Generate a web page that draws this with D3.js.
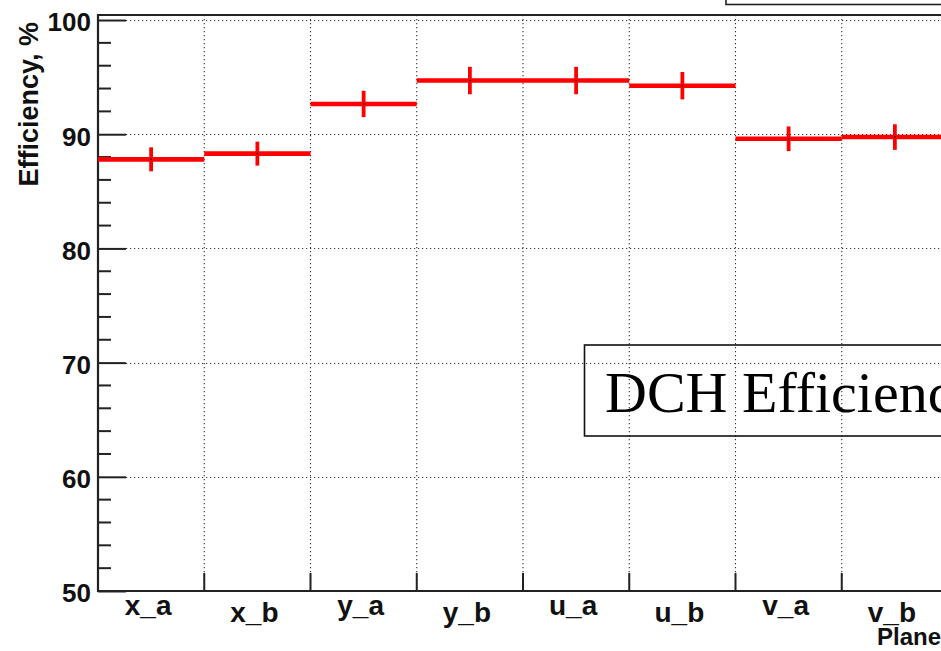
<!DOCTYPE html>
<html>
<head>
<meta charset="utf-8">
<script src="https://cdn.jsdelivr.net/npm/d3@7"></script>
<style>
  html, body { margin: 0; padding: 0; background: #fff; overflow: hidden; }
  svg { display: block; }
</style>
</head>
<body>
<svg id="chart" width="941" height="651"></svg>
<script>
// Drift-chamber plane efficiencies (%), with statistical errors
const planes = ["x_a", "x_b", "y_a", "y_b", "u_a", "u_b", "v_a", "v_b"];
const efficiency = [87.8, 88.3, 92.65, 94.7, 94.7, 94.25, 89.6, 89.75];
const errors = [1.05, 1.05, 1.15, 1.2, 1.2, 1.2, 1.08, 1.12];
const yTicks = [50, 60, 70, 80, 90, 100];
const yTitle = "Efficiency, %";
const xTitle = "Plane";
const boxText = "DCH Efficiency";

const svg = d3.select("#chart");
const frame = { left: 98, right: 948, top: 15, bottom: 591 };
const sans = "Liberation Sans, Arial, Helvetica, sans-serif";

const x = d3.scaleBand().domain(planes).range([frame.left, frame.right]).paddingInner(0).paddingOuter(0);
const y = d3.scaleLinear().domain([50, 100.44]).range([frame.bottom, frame.top]);

// top-right pave (title box)
svg.append("rect")
  .attr("x", 726).attr("y", -40).attr("width", 400).attr("height", 44.5)
  .attr("fill", "#fff").attr("stroke", "#222").attr("stroke-width", 1.6);

// dotted grid
const grid = svg.append("g").attr("stroke", "#333").attr("stroke-width", 1.1)
  .attr("stroke-dasharray", "1.2,2.8");
grid.selectAll("line.h").data(yTicks.filter(d => d > 50)).join("line")
  .attr("x1", frame.left).attr("x2", frame.right)
  .attr("y1", d => Math.round(y(d)) + 0.5).attr("y2", d => Math.round(y(d)) + 0.5);
grid.selectAll("line.v").data(planes.slice(1)).join("line")
  .attr("x1", d => x(d)).attr("x2", d => x(d))
  .attr("y1", frame.top).attr("y2", frame.bottom);

// frame top
svg.append("line").attr("x1", frame.left).attr("x2", frame.right + 10)
  .attr("y1", frame.top).attr("y2", frame.top)
  .attr("stroke", "#222").attr("stroke-width", 2);

// y axis: major ticks every 10, minor every 2
const yAxis = d3.axisLeft(y).tickValues(yTicks).tickSize(-28).tickPadding(7).tickFormat(d3.format("d"));
const gy = svg.append("g").attr("transform", `translate(${frame.left},0)`).call(yAxis);
gy.select(".domain").remove();
gy.selectAll(".tick line").attr("stroke", "#222").attr("stroke-width", 2);
gy.selectAll(".tick text")
  .attr("font-family", sans)
  .attr("font-weight", "bold").attr("font-size", 26).attr("fill", "#111")
  .attr("dy", "0.42em");
const minor = d3.range(52, 100, 2).filter(v => v % 10 !== 0);
svg.append("g").selectAll("line").data(minor).join("line")
  .attr("x1", frame.left).attr("x2", frame.left + 13)
  .attr("y1", d => y(d)).attr("y2", d => y(d))
  .attr("stroke", "#222").attr("stroke-width", 2);
svg.append("line").attr("x1", frame.left).attr("x2", frame.left)
  .attr("y1", frame.top - 1).attr("y2", frame.bottom + 1)
  .attr("stroke", "#222").attr("stroke-width", 2.2);

// x axis: ticks at bin edges, labels at bin centres
const gx = svg.append("g").attr("transform", `translate(0,${frame.bottom})`);
gx.append("line").attr("x1", frame.left).attr("x2", frame.right + 10)
  .attr("stroke", "#222").attr("stroke-width", 2);
gx.selectAll("line.t").data(planes.slice(1)).join("line")
  .attr("x1", d => x(d)).attr("x2", d => x(d)).attr("y1", 0).attr("y2", -18)
  .attr("stroke", "#222").attr("stroke-width", 2);
gx.selectAll("text").data(planes).join("text")
  .attr("x", d => x(d) + x.bandwidth() / 2 - 3)
  .attr("y", (d, i) => i % 2 === 0 ? 24 : 31)
  .attr("text-anchor", "middle")
  .attr("font-family", sans)
  .attr("font-weight", "bold").attr("font-size", 28).attr("fill", "#111")
  .text(d => d);

// axis titles
svg.append("text")
  .attr("transform", "translate(37.5,22) rotate(-90)")
  .attr("text-anchor", "end")
  .attr("font-family", sans)
  .attr("font-weight", "bold").attr("font-size", 27).attr("fill", "#111")
  .text(yTitle);
svg.append("text")
  .attr("x", 877).attr("y", 645)
  .attr("font-family", sans)
  .attr("font-weight", "bold").attr("font-size", 24).attr("fill", "#111")
  .text(xTitle);

// histogram points: horizontal bin-width bars and vertical error bars
const data = planes.map((p, i) => ({ p, v: efficiency[i], e: errors[i] }));
const marks = svg.append("g");
marks.selectAll("line.h").data(data).join("line")
  .attr("x1", d => x(d.p)).attr("x2", d => x(d.p) + x.bandwidth())
  .attr("y1", d => y(d.v)).attr("y2", d => y(d.v))
  .attr("stroke", "#ff0000").attr("stroke-width", 4.6);
marks.selectAll("line.e").data(data).join("line")
  .attr("x1", d => x(d.p) + x.bandwidth() / 2).attr("x2", d => x(d.p) + x.bandwidth() / 2)
  .attr("y1", d => y(d.v + d.e)).attr("y2", d => y(d.v - d.e))
  .attr("stroke", "#ff0000").attr("stroke-width", 3.8);
marks.selectAll("circle").data(data).join("circle")
  .attr("cx", d => x(d.p) + x.bandwidth() / 2).attr("cy", d => y(d.v))
  .attr("r", 0.8).attr("fill", "#000");

// label pave
svg.append("rect")
  .attr("x", 584.5).attr("y", 345).attr("width", 500).attr("height", 91)
  .attr("fill", "none").attr("stroke", "#111").attr("stroke-width", 1.6);
svg.append("text")
  .attr("x", 605).attr("y", 412)
  .attr("font-family", "Liberation Serif, Times New Roman, serif")
  .attr("font-size", 58).attr("fill", "#000")
  .text(boxText);
</script>
</body>
</html>
